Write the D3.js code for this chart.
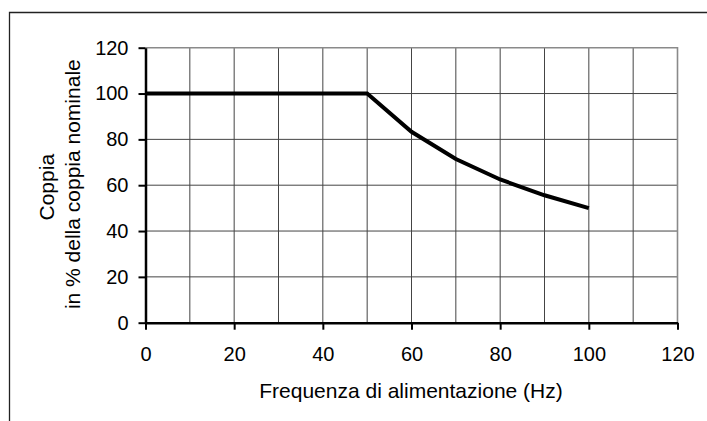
<!DOCTYPE html>
<html><head><meta charset="utf-8">
<script src="https://cdn.jsdelivr.net/npm/d3@7"></script>
<style>body{margin:0;background:#fff}svg{display:block}text{font-family:"Liberation Sans",Arial,sans-serif;fill:#000}</style>
</head><body>
<svg id="c" width="707" height="421"></svg>
<script>
const freq = [0, 10, 20, 30, 40, 50, 60, 70, 80, 90, 100];
const torque = [100, 100, 100, 100, 100, 100, 83.3, 71.4, 62.5, 55.6, 50];
const xTicks = [0, 20, 40, 60, 80, 100, 120];
const yTicks = [0, 20, 40, 60, 80, 100, 120];
const xGrid = [10, 20, 30, 40, 50, 60, 70, 80, 90, 100, 110];
const yGrid = [20, 40, 60, 80, 100];
const xTitle = "Frequenza di alimentazione (Hz)";
const yTitle = ["Coppia", "in % della coppia nominale"];

const svg = d3.select("#c");
const L = 145.5, R = 677.5, T = 47.7, B = 322.7;
const x = d3.scaleLinear().domain([0, 120]).range([L, R]);
const y = d3.scaleLinear().domain([0, 120]).range([B, T]);

// outer frame (left and top)
svg.append("path").attr("d", "M9.5,421 V12.5 H707").attr("fill", "none").attr("stroke", "#222").attr("stroke-width", 1.3);

// grid
svg.append("g").selectAll("line").data(xGrid).join("line")
  .attr("x1", d => x(d)).attr("x2", d => x(d)).attr("y1", T).attr("y2", B)
  .attr("stroke", "#444").attr("stroke-width", 1);
svg.append("g").selectAll("line").data(yGrid).join("line")
  .attr("x1", L).attr("x2", R).attr("y1", d => y(d)).attr("y2", d => y(d))
  .attr("stroke", "#444").attr("stroke-width", 1);
// top & right plot border (gray)
svg.append("path").attr("d", `M${L},${T} H${R} V${B}`).attr("fill", "none").attr("stroke", "#8a8a8a").attr("stroke-width", 1.6);

// axes
const xAxis = d3.axisBottom(x).tickValues(xTicks).tickSize(7).tickPadding(17).tickSizeOuter(0);
const gx = svg.append("g").attr("transform", `translate(0,${B})`).call(xAxis);
const yAxis = d3.axisLeft(y).tickValues(yTicks).tickSize(7).tickPadding(10).tickSizeOuter(0);
const gy = svg.append("g").attr("transform", `translate(${L},0)`).call(yAxis);
[gx, gy].forEach(g => {
  g.attr("font-size", 20).attr("font-family", "Liberation Sans, Arial, sans-serif");
  g.select(".domain").attr("stroke", "#000").attr("stroke-width", 2.5);
  g.selectAll(".tick line").attr("stroke", "#000").attr("stroke-width", 2);
  g.selectAll(".tick text").attr("fill", "#000");
});

// data line
const line = d3.line().x((d, i) => x(freq[i])).y(d => y(d));
svg.append("path").datum(torque).attr("d", line).attr("fill", "none")
  .attr("stroke", "#000").attr("stroke-width", 4).attr("stroke-linejoin", "miter");

// titles
svg.append("text").attr("x", (L + R) / 2 - 0.5).attr("y", 398).attr("text-anchor", "middle")
  .attr("font-size", 21).text(xTitle);
const yt = svg.append("text").attr("transform", `translate(0,${(T + B) / 2}) rotate(-90)`).attr("text-anchor", "middle").attr("font-size", 21);
yt.append("tspan").attr("x", -2).attr("y", 53.5).text(yTitle[0]);
yt.append("tspan").attr("x", 1).attr("y", 80).text(yTitle[1]);
</script>
</body></html>
